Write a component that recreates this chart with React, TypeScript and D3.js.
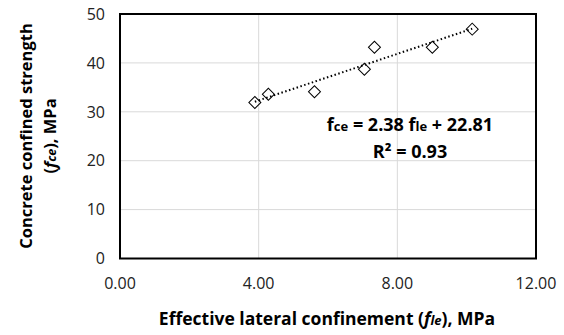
import React, { useRef, useEffect } from 'react';
import * as d3 from 'd3';

// effective lateral confinement (MPa) vs confined strength (MPa)
const fle = [3.89, 4.28, 5.61, 7.05, 7.34, 9.01, 10.16];
const fce = [31.9, 33.6, 34.1, 38.7, 43.2, 43.2, 46.9];
const xTicks = [0, 4, 8, 12];
const yTicks = [0, 10, 20, 30, 40, 50];
const slope = 2.38;
const intercept = 22.81;

const FONT = '"Open Sans", sans-serif';

const App = () => {
  const svgRef = useRef<SVGSVGElement>(null);

  useEffect(() => {
    const W = 564, H = 335;
    const margin = { top: 14, right: 28, bottom: 76.5, left: 120 };
    const width = W - margin.left - margin.right;
    const height = H - margin.top - margin.bottom;

    const root = d3.select(svgRef.current);
    root.selectAll('*').remove();
    root.attr('width', W).attr('height', H).style('display', 'block');

    const svg = root.append('g').attr('transform', `translate(${margin.left},${margin.top})`);

    const x = d3.scaleLinear().domain([0, 12]).range([0, width]);
    const y = d3.scaleLinear().domain([0, 50]).range([height, 0]);

    // grid
    svg.selectAll('.hgrid').data(yTicks.slice(1, -1)).enter().append('line')
      .attr('x1', 0).attr('x2', width)
      .attr('y1', d => y(d)).attr('y2', d => y(d))
      .attr('stroke', '#d9d9d9').attr('stroke-width', 1);
    svg.selectAll('.vgrid').data(xTicks.slice(1, -1)).enter().append('line')
      .attr('y1', 0).attr('y2', height)
      .attr('x1', d => x(d)).attr('x2', d => x(d))
      .attr('stroke', '#d9d9d9').attr('stroke-width', 1);

    // frame
    svg.append('rect')
      .attr('width', width).attr('height', height)
      .attr('fill', 'none').attr('stroke', '#000').attr('stroke-width', 2);

    // tick labels
    svg.selectAll('.xt').data(xTicks).enter().append('text')
      .attr('x', d => x(d)).attr('y', height + 30.5)
      .attr('text-anchor', 'middle').attr('font-family', FONT).attr('font-size', 16)
      .attr('fill', '#222')
      .text(d => d.toFixed(2));
    svg.selectAll('.yt').data(yTicks).enter().append('text')
      .attr('x', -15).attr('y', d => y(d)).attr('dy', '0.36em')
      .attr('text-anchor', 'end').attr('font-family', FONT).attr('font-size', 16)
      .attr('fill', '#222')
      .text(d => d);

    // trendline
    const [x0, x1] = d3.extent(fle) as [number, number];
    svg.append('line')
      .attr('x1', x(x0)).attr('y1', y(slope * x0 + intercept))
      .attr('x2', x(x1)).attr('y2', y(slope * x1 + intercept))
      .attr('stroke', '#000').attr('stroke-width', 2).attr('stroke-dasharray', '1.5,2.5');

    // points
    const diamond = d3.symbol().type(d3.symbolSquare).size(72);
    svg.selectAll('.pt').data(fle).enter().append('path')
      .attr('d', diamond)
      .attr('transform', (d, i) => `translate(${x(d)},${y(fce[i])}) rotate(45)`)
      .attr('fill', 'none').attr('stroke', '#000').attr('stroke-width', 1);

    // equation
    const eq = svg.append('text')
      .attr('x', 290).attr('y', 117)
      .attr('text-anchor', 'middle').attr('font-family', FONT).attr('font-size', 18)
      .attr('font-weight', 'bold');
    eq.append('tspan').text('f');
    eq.append('tspan').attr('font-size', 13).text('ce');
    eq.append('tspan').text(' = 2.38 f');
    eq.append('tspan').attr('font-size', 13).text('le');
    eq.append('tspan').text(' + 22.81');
    svg.append('text')
      .attr('x', 290).attr('y', 144)
      .attr('text-anchor', 'middle').attr('font-family', FONT).attr('font-size', 18)
      .attr('font-weight', 'bold')
      .text('R² = 0.93');

    // x axis title
    const xt = root.append('text')
      .attr('x', 327).attr('y', 325)
      .attr('text-anchor', 'middle').attr('font-family', FONT).attr('font-size', 17.5)
      .attr('font-weight', 'bold');
    xt.append('tspan').text('Effective lateral confinement (');
    xt.append('tspan').attr('font-style', 'italic').text('f');
    xt.append('tspan').attr('font-style', 'italic').attr('font-size', 13).text('le');
    xt.append('tspan').text('), MPa');

    // y axis title
    const yt = root.append('g').attr('transform', 'translate(0,136) rotate(-90)');
    yt.append('text')
      .attr('x', 0).attr('y', 32)
      .attr('text-anchor', 'middle').attr('font-family', FONT).attr('font-size', 16.5)
      .attr('font-weight', 'bold')
      .text('Concrete confined strength');
    const yt2 = yt.append('text')
      .attr('x', 0).attr('y', 56)
      .attr('text-anchor', 'middle').attr('font-family', FONT).attr('font-size', 16.5)
      .attr('font-weight', 'bold');
    yt2.append('tspan').text('(');
    yt2.append('tspan').attr('font-style', 'italic').text('f');
    yt2.append('tspan').attr('font-style', 'italic').attr('font-size', 12.5).text('ce');
    yt2.append('tspan').text('), MPa');
  }, []);

  return <svg ref={svgRef} style={{ position: 'absolute', left: 0, top: 0 }}></svg>;
};

export default App;
